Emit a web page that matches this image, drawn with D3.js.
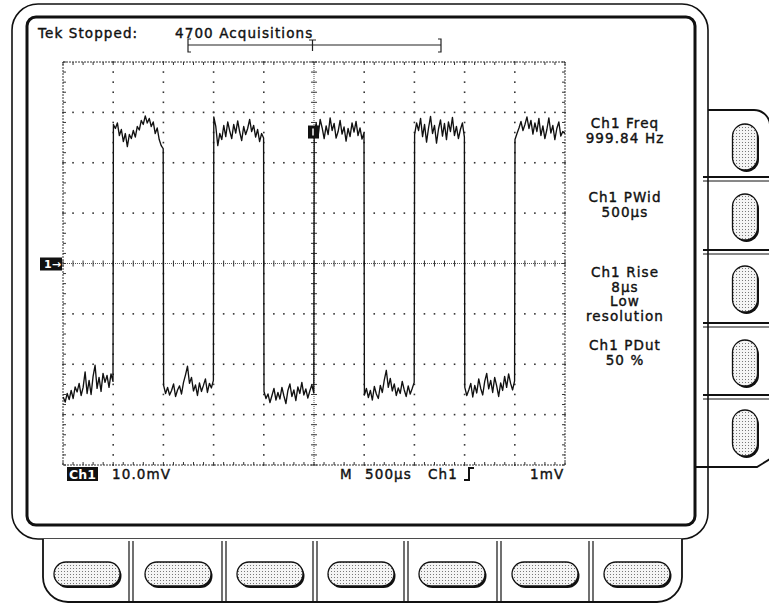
<!DOCTYPE html>
<html>
<head>
<meta charset="utf-8">
<script src="https://cdn.jsdelivr.net/npm/d3@7"></script>
<style>
  html, body { margin: 0; padding: 0; background: #fff; }
  svg { display: block; font-family: "DejaVu Sans", sans-serif; }
</style>
</head>
<body>
<svg id="scope" width="769" height="604"></svg>
<script>
// acquisition samples in mV, one array per half period, left to right
const lowSeg1  = [-26.5,-27.5,-25.8,-27,-25.2,-26.8,-24.5,-25.5,-23.8,-26.2,-24.6,-21.5,-25.8,-23.2,-26,-22.4,-20.2,-24.8,-22.6,-25.4,-21.8,-23.6,-22.2,-24.6,-21.9,-23.4];
const highSeg1 = [27.6,26.8,27.9,25.4,26.6,24.2,25.8,23.2,25.6,24.8,26.4,25.1,27.2,26.5,28.4,27.6,29.3,27.9,28.8,27.2,28.1,25.8,26.9,24.6,23.4,22.8];
const lowSeg2  = [-24.2,-25.8,-24.6,-26.1,-25.2,-23.9,-26.4,-25.1,-24.3,-25.9,-23.6,-22.1,-20.4,-23.8,-22.6,-25.3,-24.1,-26.2,-23.7,-25.4,-24.2,-22.9,-25.6,-23.8,-24.7,-23.2];
const highSeg2 = [29.1,27.2,23.4,25.8,24.6,27.4,25.2,28.1,26.3,24.8,27.6,25.9,28.3,26.1,24.4,27.2,25.6,26.8,28.6,26.2,27.4,25.1,26.6,24.2,25.8,24.9];
const lowSeg3  = [-25.4,-26.8,-25.9,-27.6,-26.2,-24.8,-27.1,-25.6,-26.9,-24.6,-26.3,-27.8,-25.2,-23.9,-26.4,-25.1,-27.2,-24.5,-25.8,-23.6,-26.1,-24.9,-26.7,-25.3,-24.1,-25.7];
const highSeg3 = [26.2,27.8,25.4,28.6,26.9,24.8,27.3,25.6,28.9,26.4,27.8,24.9,26.2,28.4,25.7,27.1,24.3,26.8,25.2,27.9,26.1,28.2,25.4,26.9,24.7,25.9];
const lowSeg4  = [-26.1,-24.8,-26.6,-25.2,-27.1,-24.4,-25.9,-26.8,-24.2,-25.6,-23.1,-21.2,-24.6,-22.8,-25.3,-23.9,-26.2,-24.7,-25.8,-23.4,-25.1,-26.4,-24.3,-25.9,-24.8,-23.6];
const highSeg4 = [25.6,27.9,26.4,28.8,25.2,27.6,24.1,26.9,29.2,25.8,27.4,23.9,26.7,28.5,25.3,27.8,24.6,28.1,26.2,29.0,25.4,27.2,24.8,26.6,27.9,25.1];
const lowSeg5  = [-24.6,-26.2,-25.1,-23.8,-26.5,-24.2,-25.7,-22.9,-24.8,-26.1,-23.4,-21.8,-24.9,-23.2,-25.6,-22.6,-24.3,-26.4,-23.7,-25.2,-22.4,-24.6,-21.9,-23.8,-25.1,-23.3];
const highSeg5 = [24.6,25.8,26.9,28.2,26.4,27.6,29.1,26.8,28.4,25.7,27.9,26.2,28.8,25.4,27.3,24.8,26.6,28.9,25.9,27.4,24.6,26.8,28.1,25.3,26.2,25.8];

const segments = [lowSeg1, highSeg1, lowSeg2, highSeg2, lowSeg3, highSeg3, lowSeg4, highSeg4, lowSeg5, highSeg5];

const timeDomain = [-2500, 2500];   // µs, trigger at centre, 500 µs/div
const voltDomain = [-40, 40];       // mV, 10 mV/div
const halfPeriod = 500;

const headerLabels = ["Tek Stopped:", "4700 Acquisitions"];
const readouts = [
  ["Ch1 Freq", "999.84 Hz"],
  ["Ch1 PWid", "500µs"],
  ["Ch1 Rise", "8µs", "Low", "resolution"],
  ["Ch1 PDut", "50 %"]
];
const channelLabel = "Ch1";
const voltsPerDiv = "10.0mV";
const timebaseLabels = ["M", "500µs", "Ch1"];
const triggerLevel = "1mV";

const svg = d3.select("#scope");

const x = d3.scaleLinear().domain(timeDomain).range([63, 565]);
const y = d3.scaleLinear().domain(voltDomain).range([465, 62]);

// dot pattern for the buttons
const defs = svg.append("defs");
const pat = defs.append("pattern")
  .attr("id", "stipple")
  .attr("width", 3).attr("height", 3)
  .attr("patternUnits", "userSpaceOnUse");
pat.append("rect").attr("width", 3).attr("height", 3).attr("fill", "#f4f4f4");
pat.append("rect").attr("x", 1).attr("y", 1).attr("width", 1).attr("height", 1).attr("fill", "#777");

// ---- bezel ----
const bezel = svg.append("g").attr("fill", "none").attr("stroke", "#111");

// outer frame
bezel.append("rect")
  .attr("x", 12).attr("y", 4).attr("width", 696).attr("height", 535)
  .attr("rx", 26).attr("stroke-width", 1.6);

// bottom button strip
bezel.append("path")
  .attr("d", "M43,539 V577 A25,25 0 0 0 68,602 H657 A25,25 0 0 0 682,577 V539")
  .attr("fill", "#fff")
  .attr("stroke-width", 1.8);

// side button strip
bezel.append("path")
  .attr("d", "M708,110 H754 A16,16 0 0 1 770,126")
  .attr("stroke-width", 1.8);
bezel.append("path")
  .attr("d", "M695,467 H757 L770,459")
  .attr("stroke-width", 1.8);

// screen
bezel.append("rect")
  .attr("x", 27).attr("y", 17).attr("width", 668).attr("height", 508)
  .attr("rx", 9).attr("fill", "#fff").attr("stroke-width", 3);

// separators
const bottomSeps = [131, 224, 315, 406, 499, 591];
bottomSeps.forEach(sx => {
  [sx - 2, sx + 2].forEach(lx => bezel.append("line")
    .attr("x1", lx).attr("x2", lx).attr("y1", 541).attr("y2", 602)
    .attr("stroke-width", 1.2));
});
const sideSeps = [179, 252, 325, 397];
sideSeps.forEach(sy => {
  bezel.append("line").attr("x1", 703).attr("x2", 769).attr("y1", sy - 2).attr("y2", sy - 2).attr("stroke-width", 2);
  bezel.append("line").attr("x1", 703).attr("x2", 769).attr("y1", sy + 2).attr("y2", sy + 2).attr("stroke-width", 1);
});

// buttons
function button(cx, cy, w, h) {
  const bg = svg.append("g");
  bg.append("rect")
    .attr("x", cx - w / 2 + 1.5).attr("y", cy - h / 2 + 2)
    .attr("width", w).attr("height", h)
    .attr("rx", Math.min(w, h) / 2)
    .attr("fill", "#111");
  bg.append("rect")
    .attr("x", cx - w / 2).attr("y", cy - h / 2)
    .attr("width", w).attr("height", h)
    .attr("rx", Math.min(w, h) / 2)
    .attr("fill", "url(#stipple)")
    .attr("stroke", "#111").attr("stroke-width", 1.3);
}
[87, 178, 270, 361, 452, 545, 637].forEach(cx => button(cx, 574, 66, 24));
[147, 217, 289, 363, 433].forEach(cy => button(745, cy, 25, 46));

// ---- graticule ----
const grat = svg.append("g");
const xMajor = d3.range(timeDomain[0], timeDomain[1] + 1, 500);
const yMajor = d3.range(voltDomain[0], voltDomain[1] + 1, 10);
const xMinor = d3.range(timeDomain[0], timeDomain[1] + 1, 100);
const yMinor = d3.range(voltDomain[0], voltDomain[1] + 0.1, 2);

xMajor.filter(t => t > timeDomain[0] && t < timeDomain[1] && t !== 0).forEach(t => {
  grat.selectAll(null).data(yMinor).join("rect")
    .attr("x", x(t) - 0.8).attr("y", d => y(d) - 0.8)
    .attr("width", 1.6).attr("height", 1.6).attr("fill", "#333");
});
yMajor.filter(v => v > voltDomain[0] && v < voltDomain[1] && v !== 0).forEach(v => {
  grat.selectAll(null).data(xMinor).join("rect")
    .attr("x", d => x(d) - 0.8).attr("y", y(v) - 0.8)
    .attr("width", 1.6).attr("height", 1.6).attr("fill", "#333");
});

// centre cross
grat.append("line")
  .attr("x1", x(timeDomain[0])).attr("x2", x(timeDomain[1]))
  .attr("y1", y(0)).attr("y2", y(0))
  .attr("stroke", "#555").attr("stroke-dasharray", "1,1");
grat.append("line")
  .attr("x1", x(0)).attr("x2", x(0))
  .attr("y1", y(voltDomain[0])).attr("y2", y(voltDomain[1]))
  .attr("stroke", "#555").attr("stroke-dasharray", "1,1");
grat.selectAll(null).data(xMinor).join("line")
  .attr("x1", d => x(d)).attr("x2", d => x(d))
  .attr("y1", y(0) - 3).attr("y2", y(0) + 3)
  .attr("stroke", "#333");
grat.selectAll(null).data(yMinor).join("line")
  .attr("x1", x(0) - 3).attr("x2", x(0) + 3)
  .attr("y1", d => y(d)).attr("y2", d => y(d))
  .attr("stroke", "#333");

// border with inward ticks
grat.append("rect")
  .attr("x", x(timeDomain[0])).attr("y", y(voltDomain[1]))
  .attr("width", x(timeDomain[1]) - x(timeDomain[0]))
  .attr("height", y(voltDomain[0]) - y(voltDomain[1]))
  .attr("fill", "none").attr("stroke", "#333").attr("stroke-dasharray", "2,1");
grat.selectAll(null).data(xMinor).join("line")
  .attr("x1", d => x(d)).attr("x2", d => x(d))
  .attr("y1", y(voltDomain[1])).attr("y2", y(voltDomain[1]) + 3)
  .attr("stroke", "#333");
grat.selectAll(null).data(xMinor).join("line")
  .attr("x1", d => x(d)).attr("x2", d => x(d))
  .attr("y1", y(voltDomain[0])).attr("y2", y(voltDomain[0]) - 3)
  .attr("stroke", "#333");
grat.selectAll(null).data(yMinor).join("line")
  .attr("x1", x(timeDomain[0])).attr("x2", x(timeDomain[0]) + 3)
  .attr("y1", d => y(d)).attr("y2", d => y(d))
  .attr("stroke", "#333");
grat.selectAll(null).data(yMinor).join("line")
  .attr("x1", x(timeDomain[1])).attr("x2", x(timeDomain[1]) - 3)
  .attr("y1", d => y(d)).attr("y2", d => y(d))
  .attr("stroke", "#333");

// ---- trace ----
const points = [];
segments.forEach((seg, k) => {
  seg.forEach((v, i) => {
    points.push({
      t: timeDomain[0] + k * halfPeriod + 2 + i * (halfPeriod - 4) / (seg.length - 1),
      v: v
    });
  });
});
svg.append("path")
  .datum(points)
  .attr("fill", "none")
  .attr("stroke", "#111")
  .attr("stroke-width", 1.35)
  .attr("stroke-linejoin", "round")
  .attr("d", d3.line().x(d => x(d.t)).y(d => y(d.v)));

// trigger point marker on the trace
svg.append("rect").attr("x", x(0) - 6).attr("y", y(highSeg3[0]) - 6)
  .attr("width", 11).attr("height", 13).attr("fill", "#111");
svg.append("line").attr("x1", x(0) - 1).attr("x2", x(0) - 1)
  .attr("y1", y(highSeg3[0]) - 3).attr("y2", y(highSeg3[0]) + 4)
  .attr("stroke", "#fff").attr("stroke-width", 1.5);

// ground marker
svg.append("rect").attr("x", 40).attr("y", y(0) - 6).attr("width", 22).attr("height", 13).attr("fill", "#111");
svg.append("text").attr("x", 44).attr("y", y(0) + 4.5)
  .attr("fill", "#fff").attr("font-size", 11).attr("font-weight", "bold")
  .text("1→");

// ---- text ----
const txt = svg.append("g")
  .attr("fill", "#111").attr("stroke", "#111").attr("stroke-width", 0.4)
  .attr("font-size", 13.5).attr("letter-spacing", 1.1);
txt.append("text").attr("x", 38).attr("y", 38).text(headerLabels[0]);
txt.append("text").attr("x", 175).attr("y", 38).text(headerLabels[1]);

// record bar
const bar = svg.append("g").attr("stroke", "#222").attr("fill", "none").attr("stroke-width", 1.2);
bar.append("line").attr("x1", 188).attr("x2", 441).attr("y1", 45).attr("y2", 45);
bar.append("path").attr("d", "M191,39 H188 V52 H191");
bar.append("path").attr("d", "M438,39 H441 V52 H438");
bar.append("path").attr("d", "M309,40 H316 M312.5,40 V51");

// side readouts
const firstBaseline = [128, 202, 277, 350];
readouts.forEach((lines, gi) => {
  lines.forEach((s, li) => {
    txt.append("text")
      .attr("x", 625).attr("y", firstBaseline[gi] + li * 14.5)
      .attr("text-anchor", "middle")
      .text(s);
  });
});

// bottom status line
svg.append("rect").attr("x", 67).attr("y", 467).attr("width", 31).attr("height", 14).attr("fill", "#111");
svg.append("text").attr("x", 82.5).attr("y", 479).attr("text-anchor", "middle")
  .attr("fill", "#fff").attr("font-size", 12.5).attr("font-weight", "bold")
  .text(channelLabel);
txt.append("text").attr("x", 112).attr("y", 479).text(voltsPerDiv);
txt.append("text").attr("x", 340).attr("y", 479).text(timebaseLabels[0]);
txt.append("text").attr("x", 365).attr("y", 479).text(timebaseLabels[1]);
txt.append("text").attr("x", 428).attr("y", 479).text(timebaseLabels[2]);
svg.append("path").attr("d", "M464,480 H469 V468 H474")
  .attr("fill", "none").attr("stroke", "#111").attr("stroke-width", 2);
txt.append("text").attr("x", 530).attr("y", 479).text(triggerLevel);
</script>
</body>
</html>
